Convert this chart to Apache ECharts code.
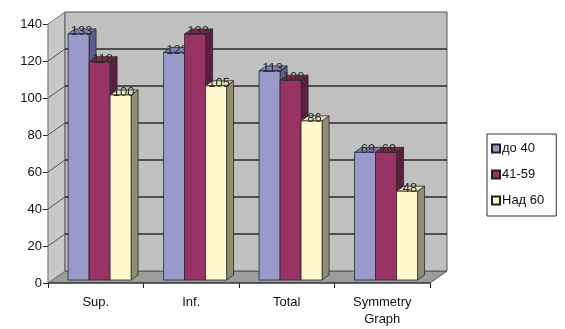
<!DOCTYPE html>
<html>
<head>
<meta charset="utf-8">
<script src="https://cdn.jsdelivr.net/npm/echarts@6/dist/echarts.min.js"></script>
<style>
  html, body { margin: 0; padding: 0; background: #ffffff; }
  #chart { width: 565px; height: 329px; }
</style>
</head>
<body>
<div id="chart"></div>
<script>
// Categories along the floor of the chart
const categories = ['Sup.', 'Inf.', 'Total', 'Symmetry\nGraph'];
// Age groups
const groupNames = ['до 40', '41-59', 'Над 60'];
const valuesUnder40 = [133, 123, 113, 69];
const values41to59 = [118, 133, 108, 69];
const valuesOver60 = [100, 105, 86, 48];
// Value axis ticks
const yTicks = [0, 20, 40, 60, 80, 100, 120, 140];

const faceColors = ['#9999cc', '#993366', '#fff8cc'];
const sideColors = ['#5c5c8e', '#5e1f3f', '#8f8f70'];
const topColors = ['#8080b8', '#7a2850', '#e8e2b4'];

// Perspective offset of the back wall
const DEPTH_X = 17, DEPTH_Y = -12;
// Depth of each bar
const BAR_DX = 7, BAR_DY = -5;

const chart = echarts.init(document.getElementById('chart'), null, { renderer: 'canvas' });

function wallRender(params, api) {
  const w = api.size([1, 0])[0];
  const first = api.coord([0, 0]);
  const last = api.coord([categories.length - 1, 0]);
  const x0 = first[0] - w / 2;
  const x1 = last[0] + w / 2;
  const yBase = first[1];
  const yTop = api.coord([0, yTicks[yTicks.length - 1]])[1];
  const children = [];
  // floor
  children.push({
    type: 'polygon',
    shape: { points: [[x0, yBase], [x1, yBase], [x1 + DEPTH_X, yBase + DEPTH_Y], [x0 + DEPTH_X, yBase + DEPTH_Y]] },
    style: { fill: '#9c9c9c', stroke: '#555', lineWidth: 1 }
  });
  // side wall
  children.push({
    type: 'polygon',
    shape: { points: [[x0, yBase], [x0, yTop], [x0 + DEPTH_X, yTop + DEPTH_Y], [x0 + DEPTH_X, yBase + DEPTH_Y]] },
    style: { fill: '#c8c8c8', stroke: '#777', lineWidth: 1 }
  });
  // back wall
  children.push({
    type: 'rect',
    shape: { x: x0 + DEPTH_X, y: yTop + DEPTH_Y, width: x1 - x0, height: yBase - yTop },
    style: { fill: '#c0c0c0', stroke: '#555', lineWidth: 1 }
  });
  // gridlines on side and back walls
  yTicks.forEach(function (v) {
    const y = api.coord([0, v])[1];
    if (v > 0 && v < yTicks[yTicks.length - 1]) {
      children.push({
        type: 'line',
        shape: { x1: x0, y1: y, x2: x0 + DEPTH_X, y2: y + DEPTH_Y },
        style: { stroke: '#555', lineWidth: 1 }
      });
      children.push({
        type: 'line',
        shape: { x1: x0 + DEPTH_X, y1: y + DEPTH_Y, x2: x1 + DEPTH_X, y2: y + DEPTH_Y },
        style: { stroke: '#2a2a2a', lineWidth: 1.5 }
      });
    }
  });
  // front floor edge
  children.push({
    type: 'line',
    shape: { x1: x0, y1: yBase, x2: x1, y2: yBase },
    style: { stroke: '#222', lineWidth: 1.2 }
  });
  return { type: 'group', children: children };
}

function barRender(idx) {
  return function (params, api) {
    const cat = api.value(0);
    const val = api.value(1);
    const top = api.coord([cat, val]);
    const base = api.coord([cat, 0]);
    const w = api.size([1, 0])[0];
    const bw = w * 0.22;
    const left = top[0] - w * 0.29 + idx * bw;
    const right = left + bw;
    const yT = top[1] - 3;
    const yB = base[1] - 3;
    const stroke = '#2a2a2a';
    return {
      type: 'group',
      children: [
        {
          type: 'polygon',
          shape: { points: [[right, yB], [right, yT], [right + BAR_DX, yT + BAR_DY], [right + BAR_DX, yB + BAR_DY]] },
          style: { fill: sideColors[idx], stroke: stroke, lineWidth: 0.8 }
        },
        {
          type: 'polygon',
          shape: { points: [[left, yT], [right, yT], [right + BAR_DX, yT + BAR_DY], [left + BAR_DX, yT + BAR_DY]] },
          style: { fill: topColors[idx], stroke: stroke, lineWidth: 0.8 }
        },
        {
          type: 'rect',
          shape: { x: left, y: yT, width: bw, height: yB - yT },
          style: { fill: faceColors[idx], stroke: stroke, lineWidth: 0.8 }
        },
        {
          type: 'text',
          style: {
            text: String(val),
            x: (left + right) / 2 + 3,
            y: yT + 4,
            align: 'center',
            verticalAlign: 'bottom',
            fill: '#2b2b2b',
            font: '13px "Liberation Sans", Arial, sans-serif'
          }
        }
      ]
    };
  };
}

const barSeries = [valuesUnder40, values41to59, valuesOver60].map(function (vals, idx) {
  return {
    name: groupNames[idx],
    type: 'custom',
    renderItem: barRender(idx),
    itemStyle: { color: faceColors[idx], borderColor: '#222', borderWidth: 1 },
    encode: { x: 0, y: 1 },
    data: vals.map(function (v, i) { return [i, v]; }),
    z: 3 + idx,
    animation: false
  };
});

chart.setOption({
  animation: false,
  backgroundColor: '#ffffff',
  textStyle: { fontFamily: '"Liberation Sans", Arial, sans-serif' },
  grid: { left: 48, right: 135, top: 24, bottom: 46 },
  legend: {
    data: groupNames,
    orient: 'vertical',
    left: 487,
    top: 134,
    padding: [8, 12, 9, 4],
    itemGap: 13,
    itemWidth: 8,
    itemHeight: 8,
    icon: 'rect',
    borderColor: '#333',
    borderWidth: 1,
    backgroundColor: '#ffffff',
    textStyle: { fontSize: 13, color: '#111', padding: [0, 0, 0, -3] }
  },
  xAxis: {
    type: 'category',
    data: categories,
    axisLine: { show: false },
    axisTick: { show: true, length: 5, lineStyle: { color: '#222' } },
    axisLabel: { margin: 11, fontSize: 13, color: '#111', lineHeight: 17 },
    splitLine: { show: false }
  },
  yAxis: {
    type: 'value',
    min: 0,
    max: 140,
    interval: 20,
    axisLine: { show: true, lineStyle: { color: '#222', width: 1.2 } },
    axisTick: { show: true, length: 5, lineStyle: { color: '#222' } },
    axisLabel: { margin: 6, fontSize: 13, color: '#111' },
    splitLine: { show: false }
  },
  series: [
    {
      name: 'walls',
      type: 'custom',
      renderItem: wallRender,
      data: [[0, 0]],
      encode: { x: 0, y: 1 },
      z: 1,
      silent: true,
      animation: false
    }
  ].concat(barSeries)
});
</script>
</body>
</html>
